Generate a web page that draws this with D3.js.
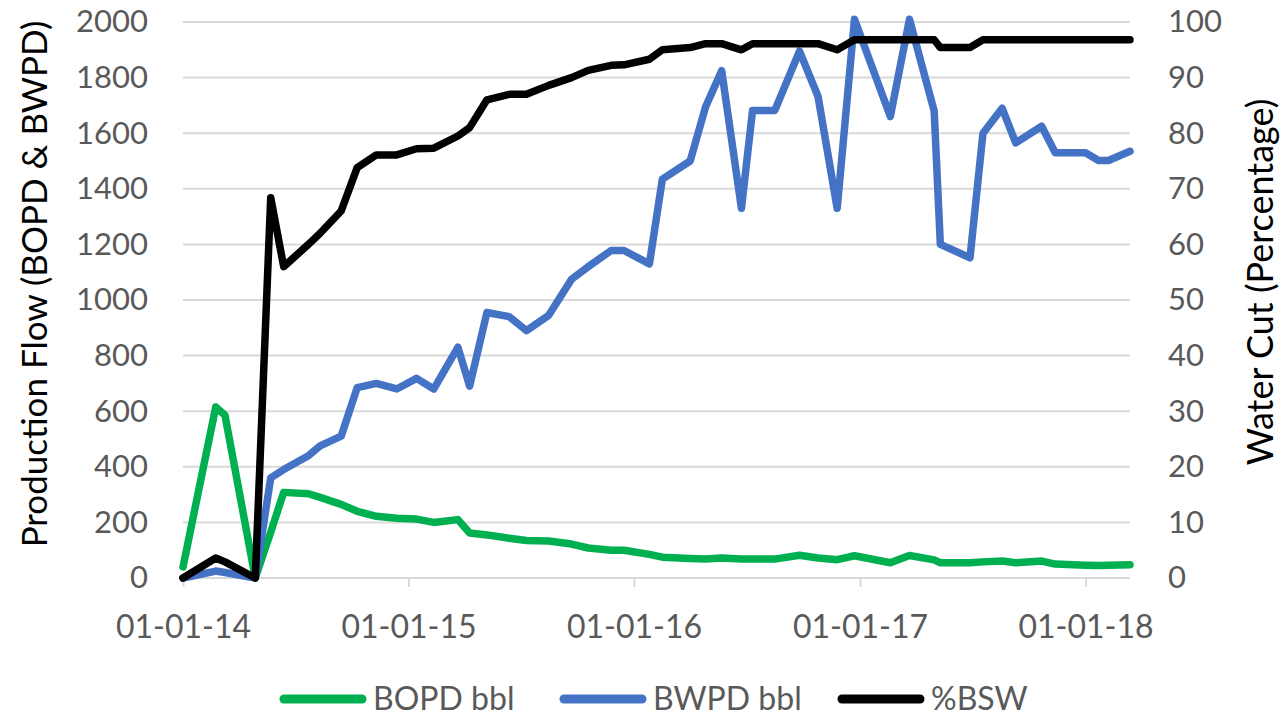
<!DOCTYPE html>
<html>
<head>
    <script src="https://d3js.org/d3.v7.min.js"></script>
    <style>
      body { margin: 0; background: #fff; }
      text { font-family: Lato, "Open Sans", sans-serif; }
    </style>
</head>
<body>
    <div id="chart"></div>
        <script>
            // dates of each reading (dd-mm-yy on the axis)
            var dates = ["2014-01-01","2014-02-23","2014-03-10","2014-04-28","2014-05-23","2014-06-13",
              "2014-07-23","2014-08-11","2014-09-14","2014-10-10","2014-11-10","2014-12-13",
              "2015-01-14","2015-02-11","2015-03-22","2015-04-10","2015-05-08","2015-06-13",
              "2015-07-11","2015-08-16","2015-09-22","2015-10-19","2015-11-25","2015-12-16",
              "2016-01-26","2016-02-16","2016-04-01","2016-04-26","2016-05-22","2016-06-23",
              "2016-07-11","2016-08-16","2016-09-25","2016-10-25","2016-11-25","2016-12-23",
              "2017-02-19","2017-03-22","2017-05-01","2017-05-11","2017-06-28","2017-07-19",
              "2017-08-19","2017-09-10","2017-10-22","2017-11-13","2018-01-01","2018-01-22",
              "2018-02-07","2018-03-14"];

            var bopd = [40,615,585,0,165,308,303,290,265,240,222,215,
              212,200,210,162,155,143,135,133,122,108,100,100,
              85,75,70,68,72,68,68,68,82,72,66,80,
              55,81,65,55,55,58,61,55,61,50,46,45,
              46,48];

            var bwpd = [0,25,20,0,360,390,440,475,510,685,700,680,
              718,680,830,690,955,940,890,945,1075,1120,1178,1178,
              1130,1435,1500,1695,1825,1330,1682,1682,1895,1732,1330,2010,
              1660,2010,1680,1200,1152,1600,1690,1565,1625,1530,1530,1502,
              1502,1535];

            var bsw = [0,3.6,2.9,0,68.4,56,60,62,66,73.8,76.1,76.1,
              77.2,77.3,79.5,81,86,87,87,88.6,90,91.3,92.2,92.3,
              93.3,95,95.4,96.1,96.1,95,96.1,96.1,96.1,96.1,95,96.8,
              96.8,96.8,96.8,95.4,95.4,96.8,96.8,96.8,96.8,96.8,96.8,96.8,
              96.8,96.8];

            var leftTicks = [0,200,400,600,800,1000,1200,1400,1600,1800,2000];
            var rightTicks = [0,10,20,30,40,50,60,70,80,90,100];
            var xTicks = ["2014-01-01","2015-01-01","2016-01-01","2017-01-01","2018-01-01"];

            var parseDate = d3.timeParse("%Y-%m-%d");
            var formatDate = d3.timeFormat("%d-%m-%y");

            var W = 1282, H = 721;
            var margin = {top: 22, right: 152, bottom: 143, left: 183},
              width = W - margin.left - margin.right,
              height = H - margin.top - margin.bottom;

            var svg = d3.select("#chart")
                .append("svg")
                .attr("width", W)
                .attr("height", H);

            var g = svg.append("g")
                .attr("transform", "translate(" + margin.left + "," + margin.top + ")");

            var x = d3.scaleTime()
                .domain([parseDate(dates[0]), parseDate(dates[dates.length - 1])])
                .range([0, width]);

            var yL = d3.scaleLinear().domain([0, 2000]).range([height, 0]);
            var yR = d3.scaleLinear().domain([0, 100]).range([height, 0]);

            ////////// grid + axes //////////

            g.append("g")
              .selectAll("line")
              .data(leftTicks)
              .enter().append("line")
                .attr("x1", 0)
                .attr("x2", width)
                .attr("y1", function(d) { return yL(d); })
                .attr("y2", function(d) { return yL(d); })
                .style("stroke", "#d9d9d9")
                .style("stroke-width", 2);

            var xAxis = g.append("g")
                .attr("transform", "translate(0," + height + ")")
                .call(d3.axisBottom(x)
                  .tickValues(xTicks.map(parseDate))
                  .tickFormat(formatDate)
                  .tickSizeInner(9)
                  .tickSizeOuter(0)
                  .tickPadding(28));
            xAxis.select(".domain").remove();
            xAxis.selectAll("line").style("stroke", "#d9d9d9").style("stroke-width", 2);
            xAxis.selectAll("text")
                .style("font-size", "32px")
                .style("fill", "#595959");

            var leftAxis = g.append("g")
                .call(d3.axisLeft(yL).tickValues(leftTicks).tickFormat(d3.format("d")).tickSize(0).tickPadding(35));
            leftAxis.select(".domain").remove();
            leftAxis.selectAll("text")
                .style("font-size", "31px")
                .style("fill", "#595959");

            var rightAxis = g.append("g")
                .attr("transform", "translate(" + width + ",0)")
                .call(d3.axisRight(yR).tickValues(rightTicks).tickSize(0).tickPadding(38));
            rightAxis.select(".domain").remove();
            rightAxis.selectAll("text")
                .style("font-size", "31px")
                .style("fill", "#595959");

            ////////// lines //////////

            var series = [
              {name: "BOPD bbl", values: bopd, scale: yL, color: "#00b050"},
              {name: "BWPD bbl", values: bwpd, scale: yL, color: "#4472c4"},
              {name: "%BSW", values: bsw, scale: yR, color: "#000000"}
            ];

            series.forEach(function(s) {
              var line = d3.line()
                .x(function(d, i) { return x(parseDate(dates[i])); })
                .y(function(d) { return s.scale(d); });
              g.append("path")
                .datum(s.values)
                .attr("d", line)
                .style("fill", "none")
                .style("stroke", s.color)
                .style("stroke-width", 7.5)
                .style("stroke-linejoin", "round")
                .style("stroke-linecap", "round");
            });

            ////////// titles //////////

            svg.append("text")
                .attr("transform", "translate(47,284) rotate(-90)")
                .attr("text-anchor", "middle")
                .style("font-size", "35px")
                .style("fill", "#000")
                .text("Production Flow (BOPD & BWPD)");

            svg.append("text")
                .attr("transform", "translate(1273,282) rotate(-90)")
                .attr("text-anchor", "middle")
                .style("font-size", "36px")
                .style("fill", "#000")
                .text("Water Cut (Percentage)");

            ////////// legend //////////

            var legendX = [280, 560, 838];
            var legend = svg.append("g")
                .attr("transform", "translate(0,699)");

            var item = legend.selectAll("g")
                .data(series)
                .enter().append("g")
                .attr("transform", function(d, i) { return "translate(" + legendX[i] + ",0)"; });

            item.append("line")
                .attr("x1", 4)
                .attr("x2", 82)
                .style("stroke", function(d) { return d.color; })
                .style("stroke-width", 9)
                .style("stroke-linecap", "round");

            item.append("text")
                .attr("x", 93)
                .attr("dy", "0.35em")
                .style("font-size", "32px")
                .style("fill", "#595959")
                .text(function(d) { return d.name; });
        </script>
</body>
</html>
